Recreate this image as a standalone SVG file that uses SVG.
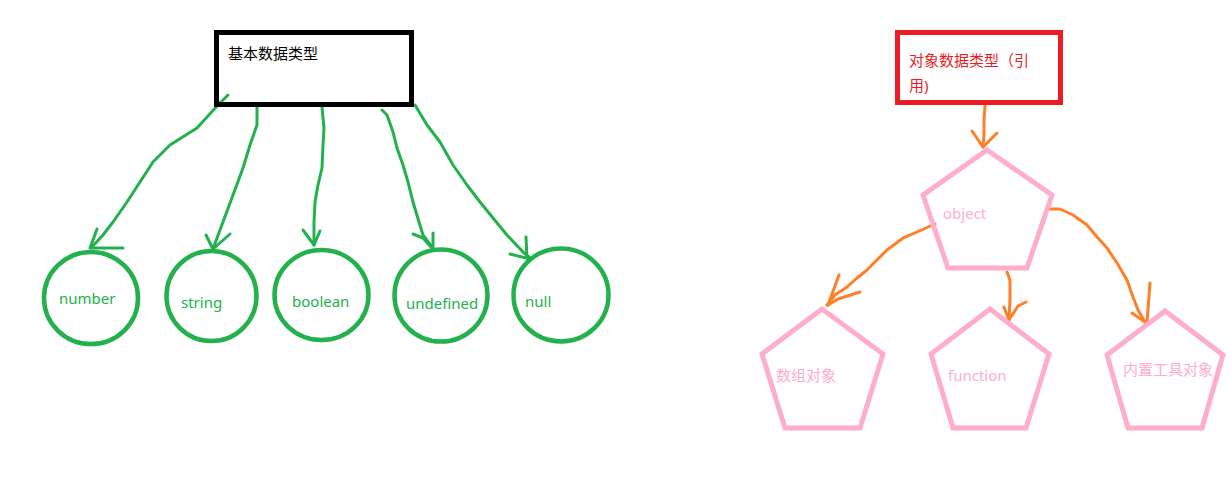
<svg xmlns="http://www.w3.org/2000/svg" width="1231" height="477" viewBox="0 0 1231 477">
<style>
.bg{fill:#ffffff}
.box-black{fill:none;stroke:#000000;stroke-width:5}
.box-red{fill:none;stroke:#ed1c24;stroke-width:5}
.circ{fill:none;stroke:#22b14c;stroke-width:4.5}
.pent{fill:none;stroke:#ffaec9;stroke-width:5;stroke-linejoin:miter}
.g{fill:none;stroke:#22b14c;stroke-width:3;stroke-linecap:round;stroke-linejoin:round}
.o{fill:none;stroke:#ff7f27;stroke-width:3;stroke-linecap:round;stroke-linejoin:round}
text{font-family:"Noto Sans","Noto Sans CJK SC",sans-serif;font-size:15px}
.tk{fill:#000000}
.tr{fill:#ed1c24}
.tg{fill:#22b14c}
.tp{fill:#ffaec9}
</style>
<rect class="bg" x="0" y="0" width="1231" height="477"/>
<g id="connectors">
  <!-- green: base type -> number -->
  <polyline class="g" points="228,95 218,105 197,128 170,145 153,162 140,182 127,202 113,222 103,235 92,247"/>
  <polyline class="g" points="97,229 90,248 123,248"/>
  <!-- string -->
  <polyline class="g" points="257,107 257,125 250,145 243,168 233,195 223,222 217,238 213,249"/>
  <polyline class="g" points="206,235 213,249 230,234"/>
  <!-- boolean -->
  <polyline class="g" points="322,107 323,118 324,128 323,145 322,168 318,185 315,202 314,222 314,245"/>
  <polyline class="g" points="303,230 314,245 320,231"/>
  <!-- undefined -->
  <polyline class="g" points="382,110 387,115 393,132 397,148 403,165 408,182 413,202 419,222 423,235 432,247"/>
  <polyline class="g" points="413,234 423,238 431,247"/>
  <polyline class="g" points="433,233 433,248"/>
  <!-- null -->
  <polyline class="g" points="415,105 427,125 440,142 453,165 467,185 480,202 493,218 507,235 523,252 530,258"/>
  <polyline class="g" points="510,254 530,259"/>
  <polyline class="g" points="526,237 527,258"/>
  <!-- orange: reference -> object -->
  <polyline class="o" points="985,106 984,120 984,135 983,147"/>
  <polyline class="o" points="972,131 983,147 997,133"/>
  <!-- object -> array -->
  <polyline class="o" points="935,224 917,232 903,238 887,250 877,260 867,270 857,278 847,287 835,295 827,305"/>
  <polyline class="o" points="839,275 828,305"/>
  <polyline class="o" points="860,292 838,299 828,305"/>
  <!-- object -> function -->
  <polyline class="o" points="1007,272 1010,280 1010,300 1009,320"/>
  <polyline class="o" points="1004,307 1009,320 1018,306 1026,302"/>
  <!-- object -> builtin -->
  <polyline class="o" points="1048,209 1060,209 1073,215 1087,225 1097,237 1107,248 1117,263 1127,280 1133,297 1138,310 1145,322"/>
  <polyline class="o" points="1132,313 1145,322"/>
  <polyline class="o" points="1150,283 1147,322"/>
</g>
<g id="node-basic">
  <rect class="box-black" x="216.5" y="32.5" width="195" height="72"/>
  <text class="tk" x="228" y="59">基本数据类型</text>
</g>
<g id="node-reference">
  <rect class="box-red" x="897.5" y="32.5" width="163" height="70"/>
  <text class="tr" x="909" y="66">对象数据类型（引</text>
  <text class="tr" x="909" y="91">用)</text>
</g>
<g id="node-number">
  <ellipse class="circ" cx="91" cy="298" rx="47" ry="46"/>
  <text class="tg" x="59" y="304">number</text>
</g>
<g id="node-string">
  <ellipse class="circ" cx="211.5" cy="296" rx="45" ry="45"/>
  <text class="tg" x="181" y="308">string</text>
</g>
<g id="node-boolean">
  <ellipse class="circ" cx="321.5" cy="295" rx="47" ry="45"/>
  <text class="tg" x="292" y="307">boolean</text>
</g>
<g id="node-undefined">
  <ellipse class="circ" cx="441" cy="295.5" rx="46.5" ry="46"/>
  <text class="tg" x="406" y="309">undefined</text>
</g>
<g id="node-null">
  <ellipse class="circ" cx="561" cy="295" rx="47.5" ry="46.5"/>
  <text class="tg" x="525" y="307">null</text>
</g>
<g id="node-object">
  <polygon class="pent" points="987,150 923,195 948,268 1027,268 1052,195"/>
  <text class="tp" x="943" y="219">object</text>
</g>
<g id="node-array">
  <polygon class="pent" points="822,309 762,354 785,428 860,428 883,354"/>
  <text class="tp" x="776" y="381">数组对象</text>
</g>
<g id="node-function">
  <polygon class="pent" points="990,309 931,354 953,428 1026,428 1049,354"/>
  <text class="tp" x="948" y="381">function</text>
</g>
<g id="node-builtin">
  <polygon class="pent" points="1165,311 1107,355 1128,428 1202,428 1223,355"/>
  <text class="tp" x="1123" y="375">内置工具对象</text>
</g>
</svg>
